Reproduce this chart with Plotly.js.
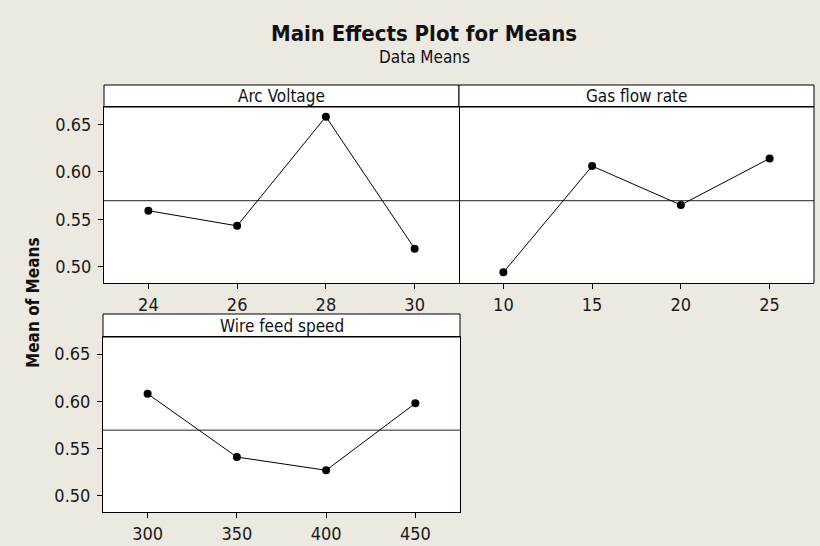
<!DOCTYPE html>
<html>
<head>
<meta charset="utf-8">
<script src="https://cdn.plot.ly/plotly-3.0.1.min.js"></script>
<style>html,body{margin:0;padding:0;background:#ECE9E1;}</style>
</head>
<body>
<div id="chart" style="width:820px;height:546px;"></div>
<script>
// Data
const arcLevels = [24, 26, 28, 30];
const arcMeans = [0.559, 0.543, 0.658, 0.519];
const gasLevels = [10, 15, 20, 25];
const gasMeans = [0.494, 0.606, 0.565, 0.614];
const wireLevels = [300, 350, 400, 450];
const wireMeans = [0.608, 0.541, 0.527, 0.598];
const panelTitles = ["Arc Voltage", "Gas flow rate", "Wire feed speed"];
const overallMean = 0.5695;
const yTicks = [0.50, 0.55, 0.60, 0.65];
const yTickText = ["0.50", "0.55", "0.60", "0.65"];

const FONT = '"DejaVu Sans Condensed", "Liberation Sans", sans-serif';
const W = 820, H = 546;
const px = v => v / W;
const py = v => (H - v) / H;

const lineStyle = {color: '#000', width: 1};
const markerStyle = {color: '#000', size: 8};
function trace(x, y, xa, ya) {
  return {x: x, y: y, xaxis: xa, yaxis: ya, mode: 'lines+markers', type: 'scatter',
          line: lineStyle, marker: markerStyle, hoverinfo: 'x+y', showlegend: false};
}
const data = [
  trace(arcLevels, arcMeans, 'x', 'y'),
  trace(gasLevels, gasMeans, 'x2', 'y2'),
  trace(wireLevels, wireMeans, 'x3', 'y3')
];

const yRange = [0.4828, 0.6682];
function xAxis(domain, range, vals, anchor) {
  return {domain: domain, range: range, tickvals: vals, ticktext: vals.map(String),
          anchor: anchor, showgrid: false, zeroline: false, showline: true, linecolor: '#000',
          linewidth: 1, mirror: true, ticks: 'outside', ticklen: 5, tickcolor: '#000',
          tickfont: {family: FONT, size: 18, color: '#1a1a1a'}, fixedrange: true};
}
function yAxis(domain, anchor, labels) {
  return {domain: domain, range: yRange, tickvals: yTicks, ticktext: yTickText,
          anchor: anchor, showgrid: false, zeroline: false, showline: labels, linecolor: '#000',
          linewidth: 1, mirror: true, ticks: labels ? 'outside' : '', ticklen: 5, tickcolor: '#000',
          showticklabels: labels, ticklabelstandoff: 3,
          tickfont: {family: FONT, size: 18, color: '#1a1a1a'}, fixedrange: true};
}

const topY = [py(283), py(107)];
const botY = [py(512), py(337)];

const shapes = [];
const annotations = [];
const panels = [
  {xa: 'x', ya: 'y', title: panelTitles[0], y0: 107, y1: 85},
  {xa: 'x2', ya: 'y2', title: panelTitles[1], y0: 107, y1: 85},
  {xa: 'x3', ya: 'y3', title: panelTitles[2], y0: 337, y1: 314}
];
panels.forEach(p => {
  // strip header
  shapes.push({type: 'rect', xref: p.xa + ' domain', yref: 'paper', x0: 0, x1: 1,
               y0: py(p.y0), y1: py(p.y1), fillcolor: '#fff', line: {color: '#000', width: 1}, layer: 'below'});
  annotations.push({xref: p.xa + ' domain', yref: 'paper', x: 0.5, y: py((p.y0 + p.y1) / 2),
                    text: p.title, showarrow: false, xanchor: 'center', yanchor: 'middle',
                    font: {family: FONT, size: 17, color: '#111'}});
  // overall mean reference line
  shapes.push({type: 'line', xref: p.xa + ' domain', yref: p.ya, x0: 0, x1: 1,
               y0: overallMean, y1: overallMean, line: {color: '#222', width: 1}, layer: 'below'});
});
// right border of the second panel (its left border is shared with the first panel)
shapes.push({type: 'line', xref: 'x2 domain', yref: 'y2 domain', x0: 1, x1: 1, y0: 0, y1: 1,
             line: {color: '#000', width: 1}});

annotations.push({xref: 'paper', yref: 'paper', x: px(424), y: py(57), text: 'Data Means',
                  showarrow: false, xanchor: 'center', yanchor: 'middle',
                  font: {family: FONT, size: 17, color: '#111'}});
annotations.push({xref: 'paper', yref: 'paper', x: px(33), y: py(303), text: '<b>Mean of Means</b>',
                  showarrow: false, textangle: -90, xanchor: 'center', yanchor: 'middle',
                  font: {family: FONT, size: 17, color: '#111'}});

const layout = {
  width: W, height: H,
  margin: {l: 0, r: 0, t: 0, b: 0},
  paper_bgcolor: '#ECE9E1', plot_bgcolor: '#fff',
  title: {text: '<b>Main Effects Plot for Means</b>', x: px(424), y: py(33), xref: 'paper', yref: 'paper',
          xanchor: 'center', yanchor: 'middle', font: {family: FONT, size: 22, color: '#111'}},
  xaxis: xAxis([px(104), px(459)], [23, 31], arcLevels, 'y'),
  yaxis: yAxis(topY, 'x', true),
  xaxis2: xAxis([px(459), px(814)], [7.5, 27.5], gasLevels, 'y2'),
  yaxis2: yAxis(topY, 'x2', false),
  xaxis3: xAxis([px(103), px(460)], [275, 475], wireLevels, 'y3'),
  yaxis3: yAxis(botY, 'x3', true),
  shapes: shapes,
  annotations: annotations,
  showlegend: false
};
Plotly.newPlot('chart', data, layout, {displayModeBar: false, staticPlot: true});
</script>
</body>
</html>
